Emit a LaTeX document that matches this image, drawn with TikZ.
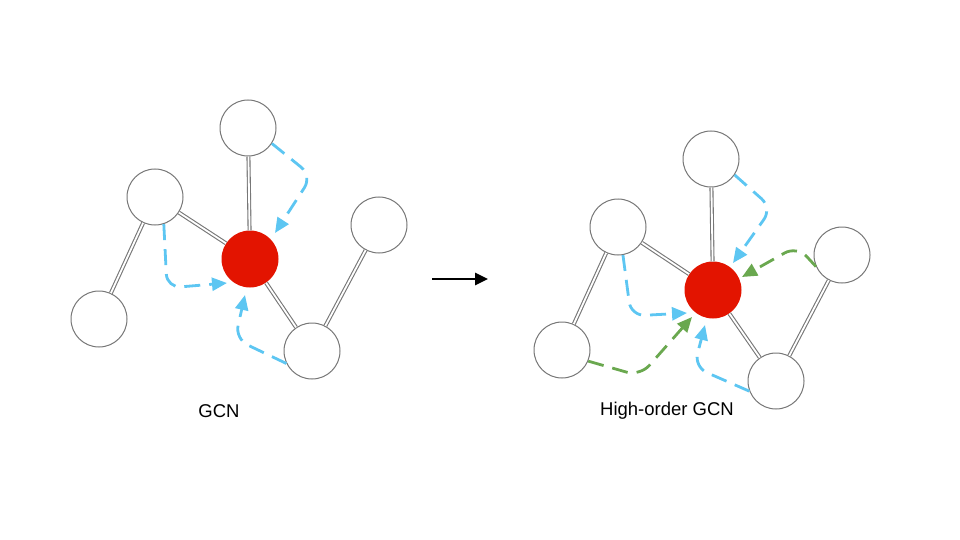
\documentclass[tikz,border=0pt]{standalone}
\usepackage{fontspec}
\setmainfont{Liberation Sans}
\usetikzlibrary{arrows.meta,calc}
\definecolor{redc}{HTML}{E31400}
\definecolor{bluec}{HTML}{5DC6F2}
\definecolor{greenc}{HTML}{6AA84F}
\definecolor{edgec}{HTML}{777777}
\tikzset{
  vert/.style={circle,draw=edgec,line width=1pt,fill=white,minimum size=56pt,inner sep=0pt},
  center/.style={circle,fill=redc,minimum size=57pt,inner sep=0pt},
  edge/.style={draw=edgec,line width=1.1pt,double=white,double distance=1.8pt},
  msg/.style={line width=2.8pt,dash pattern=on 16pt off 9pt,rounded corners=14pt,
    -{Triangle[length=15pt,width=13pt]}},
  bmsg/.style={msg,draw=bluec},
  gmsg/.style={msg,draw=greenc},
  lbl/.style={font=\fontsize{18.5}{22}\selectfont}
}
\begin{document}
\begin{tikzpicture}[x=1pt,y=-1pt]
\useasboundingbox (0,0) rectangle (960,540);
% ---------- left graph ----------
\node[vert] (topL) at (248,128) {};
\node[vert] (luL) at (155,197) {};
\node[vert] (blL) at (99,319) {};
\node[center] (redL) at (250,259) {};
\node[vert] (brL) at (312,351) {};
\node[vert] (rL) at (379,225) {};
\draw[edge] (topL) -- (redL);
\draw[edge] (luL) -- (redL);
\draw[edge] (luL) -- (blL);
\draw[edge] (redL) -- (brL);
\draw[edge] (brL) -- (rL);
\draw[bmsg] (topL.-33) -- (312,176) -- ($(redL)+(25,-26)$);
\draw[bmsg] (luL.-72) -- (167,288) -- ($(redL)+(-23,24)$);
\draw[bmsg] (brL.-154) -- (235,339) -- ($(redL)+(-5,36)$);
\node[lbl] (gcn) at (219,411) {GCN};
% ---------- arrow ----------
\coordinate (a1) at (432,279);
\coordinate (a2) at (488,279);
\draw[line width=2.6pt,-{Triangle[length=13pt,width=12pt]}] (a1) -- (a2);
% ---------- right graph ----------
\node[vert] (topR) at (711,159) {};
\node[vert] (luR) at (618,227) {};
\node[vert] (blR) at (562,350) {};
\node[center] (redR) at (713,290) {};
\node[vert] (brR) at (776,381) {};
\node[vert] (rR) at (842,255) {};
\draw[edge] (topR) -- (redR);
\draw[edge] (luR) -- (redR);
\draw[edge] (luR) -- (blR);
\draw[edge] (redR) -- (brR);
\draw[edge] (brR) -- (rR);
\draw[bmsg] (topR.-34) -- (772,208) -- ($(redR)+(20,-27)$);
\draw[bmsg] (luR.-80) -- (631,316) -- ($(redR)+(-26,23)$);
\draw[bmsg] (brR.-159) -- (694,367) -- ($(redR)+(-8,35)$);
\draw[gmsg] (blR.-23) -- (640,376) -- ($(redR)+(-21,27)$);
\draw[gmsg] (rR.-156) -- (797,246) -- ($(redR)+(29,-13)$);
\node[lbl] (hgcn) at (667,411) {High-order GCN};
\end{tikzpicture}
\end{document}
